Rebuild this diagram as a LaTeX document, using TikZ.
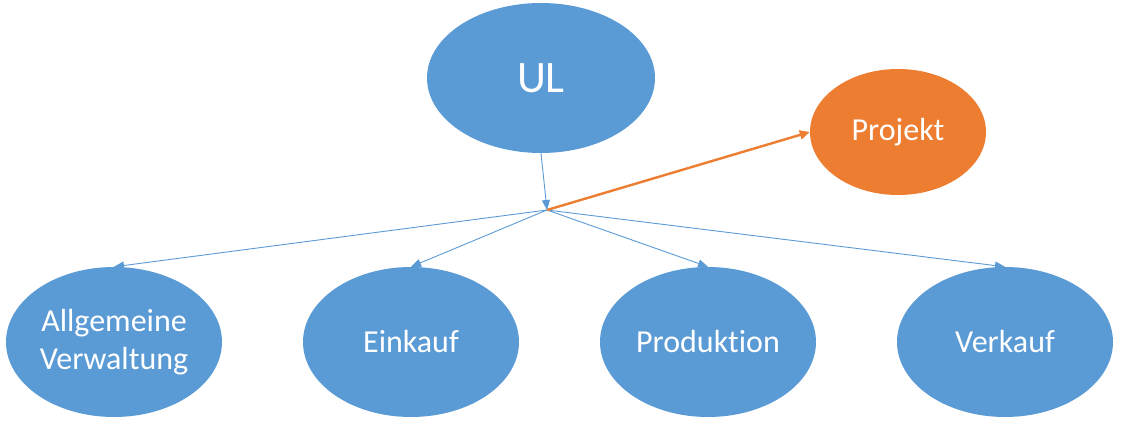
\documentclass[tikz,border=0pt]{standalone}
\usepackage{fontspec}
\setmainfont[Ligatures={NoCommon,NoDiscretionary,NoRare}]{Carlito}
\usetikzlibrary{shapes.geometric,arrows.meta}
\definecolor{offblue}{HTML}{5B9BD5}
\definecolor{offorange}{HTML}{ED7D31}
\tikzset{
  ell/.style={ellipse, fill=offblue, draw=none, inner sep=0pt, text=white,
    font=\fontsize{32}{38}\selectfont, align=center,
    minimum width=216pt, minimum height=150pt},
  orangeell/.style={ell, fill=offorange, minimum width=176pt, minimum height=126pt},
  thinarrow/.style={draw=offblue, line width=0.9pt, -{Triangle[length=10pt,width=8pt]}},
  orangearrow/.style={draw=offorange, line width=2.4pt, -{Triangle[length=10pt,width=9pt]}}
}
\begin{document}
\begin{tikzpicture}[x=1pt,y=-1pt]
\useasboundingbox (0,0) rectangle (1128,425);
\node[ell, minimum width=228pt, minimum height=150pt, font=\fontsize{45}{54}\selectfont] (ul) at (541,78) {UL};
\node[orangeell] (proj) at (898,132) {Projekt};
\node[ell] (allg) at (114,342) {Allgemeine\\Verwaltung};
\node[ell] (eink) at (411,342) {Einkauf};
\node[ell] (prod) at (708,342) {Produktion};
\node[ell] (verk) at (1005,342) {Verkauf};
\coordinate (hub) at (547,210);
\draw[thinarrow] (ul.south) -- (hub);
\draw[thinarrow] (hub) -- (allg.north);
\draw[thinarrow] (hub) -- (eink.north);
\draw[thinarrow] (hub) -- (prod.north);
\draw[thinarrow] (hub) -- (verk.north);
\draw[orangearrow] (hub) -- (proj.west);
\end{tikzpicture}
\end{document}
